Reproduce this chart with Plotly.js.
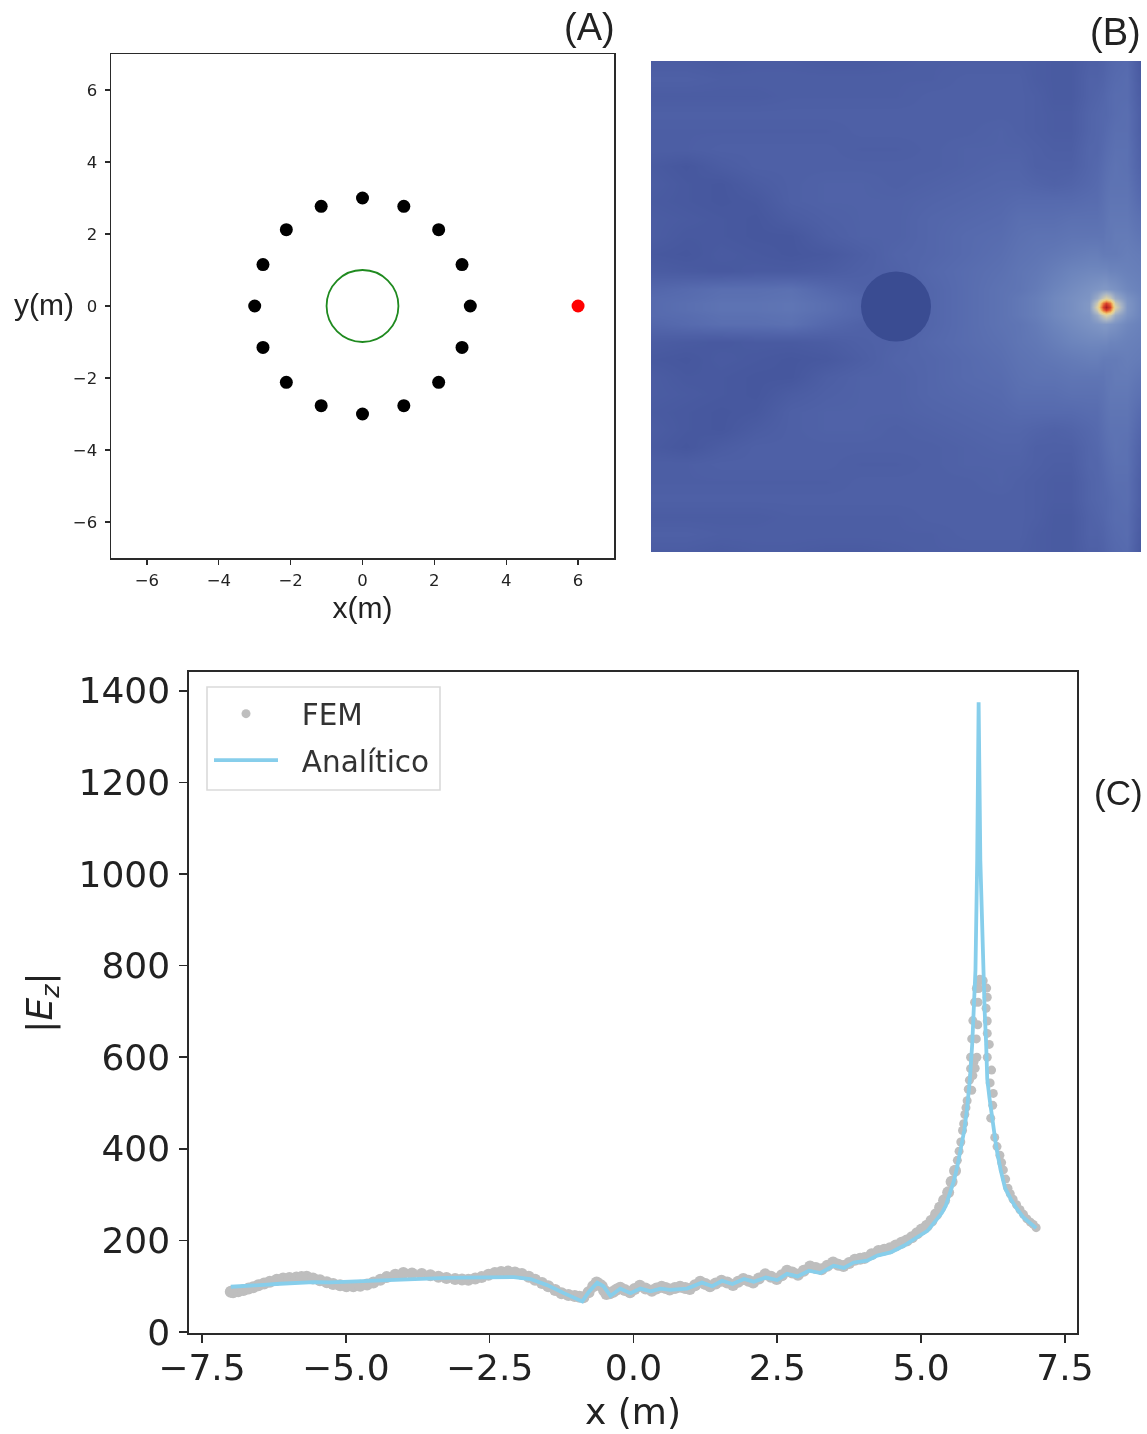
<!DOCTYPE html>
<html>
<head>
<meta charset="utf-8">
<script src="https://cdn.plot.ly/plotly-3.0.0.min.js"></script>
<style>html,body{margin:0;padding:0;background:#fff}#chart{width:1147px;height:1434px;filter:blur(0.5px)}</style>
</head>
<body>
<div id="chart"></div>
<script>
// Panel A: geometry
const ringX = [3,2.77,2.12,1.15,0,-1.15,-2.12,-2.77,-3,-2.77,-2.12,-1.15,0,1.15,2.12,2.77];
const ringY = [0,1.15,2.12,2.77,3,2.77,2.12,1.15,0,-1.15,-2.12,-2.77,-3,-2.77,-2.12,-1.15];
const sourceX = [6];
const sourceY = [0];

// Panel B: field (relative scale 0-100), upper half, mirrored about y=0
const fieldX = [-7,-6,-5,-4,-3,-2,-1,0,1,2,3,3.5,4,4.5,5,5.5,5.75,5.9,6,6.1,6.25,6.6,7];
const fieldAbsY = [0,0.1,0.25,0.5,1,1.5,2,2.5,3,3.5,4,4.5,5,5.5,6,6.5,7];
const fieldRows = [
 [20,22,24,24,25,22,18,15,18,21,24,26,28,31,33,36,56,88,100,88,56,35,30],
 [20,22,24,24,25,22,18,15,18,21,24,26,28,31,33,36,52,80,88,80,52,35,30],
 [20,21,23,23,24,21,18,15,18,21,24,26,28,31,33,35,42,52,56,52,42,34,30],
 [18,20,22,22,23,19,16,15,18,21,24,25,27,30,32,34,35,36,36,35,34,31,29],
 [13,12,11,12,12,13,15,16,19,21,23,25,26,28,30,31,31,31,31,30,30,29,28],
 [11,10,12,11,10,11,14,17,18,20,22,24,25,26,27,28,28,27,27,27,27,28,27],
 [13,11,11,10,10,14,16,16,18,20,21,23,24,24,25,25,25,25,26,26,27,27,25],
 [13,12,11,10,13,15,16,16,18,19,20,22,22,22,23,23,23,24,25,26,26,26,23],
 [12,11,10,11,15,16,16,16,17,18,19,20,20,20,20,21,21,23,24,25,25,25,20],
 [13,11,10,13,15,16,16,15,16,17,18,18,17,16,17,19,20,22,23,24,24,24,18],
 [12,10,13,15,15,15,15,15,15,16,17,17,15,15,15,18,19,21,22,23,24,23,16],
 [14,14,15,15,15,15,14,14,15,16,16,16,15,14,14,18,18,20,21,22,23,23,15],
 [14,14,14,14,14,14,15,15,15,15,16,15,14,13,13,17,18,19,20,21,22,22,14],
 [15,15,15,15,15,15,15,15,15,15,15,15,14,13,13,17,18,19,19,20,21,22,14],
 [13,13,13,13,14,14,14,14,15,15,15,15,14,12,12,16,17,18,19,20,21,21,13],
 [15,15,14,14,14,14,14,14,14,15,15,15,13,12,12,16,16,17,18,19,20,21,12],
 [13,13,12,13,13,12,12,13,14,14,14,14,13,12,12,15,15,16,17,18,19,20,11]
];
const fieldScale = [
 [0,'#3A4C92'],[0.10,'#46579E'],[0.15,'#4E60A6'],[0.20,'#566AAE'],[0.25,'#5F75B4'],
 [0.30,'#6C84BC'],[0.35,'#7E95C4'],[0.45,'#A8B4C4'],[0.55,'#D8CFA8'],[0.65,'#EFCF80'],
 [0.75,'#EE9A50'],[0.88,'#D8402A'],[1,'#A81E22']
];

// Panel C: analytic curve
const anaX = [-7.0,-6.72,-6.43,-6.14,-5.85,-5.56,-5.27,-4.98,-4.69,-4.40,-4.11,-3.82,-3.53,-3.24,-2.95,-2.66,-2.37,-2.08,-1.79,-1.50,-1.21,-0.89,-0.78,-0.63,-0.52,-0.40,-0.23,-0.05,0.12,0.30,0.47,0.64,0.93,1.19,1.37,1.54,1.72,1.92,2.09,2.30,2.50,2.67,2.85,3.05,3.25,3.48,3.66,3.83,4.06,4.24,4.47,4.70,4.93,5.11,5.28,5.36,5.43,5.50,5.57,5.63,5.69,5.75,5.80,5.85,5.89,5.92,5.945,5.975,6.0,6.03,6.055,6.08,6.105,6.13,6.15,6.19,6.23,6.31,6.38,6.46,6.56,6.66,6.78,6.9,7.0];
const anaY = [99,100,103,105.5,108,109,108.5,110,111,113.5,116,117,117,118.5,119,120,121,120,115.7,102.6,85,67,87,108,100,79,95,85,95,89,95,92,95,108,100,112,105,116,110,119,113.5,127,121.5,134,129,145,140,152,156,167,174,188.5,207,221,247,260,276,300,330,362,401,440,489,555,632,700,790,1029,1375,1029,900,790,700,632,552,510,473,401,355,314,290,270,250,237,227];

// Panel C: FEM samples, low band
const femBandX = [-7,-6.96,-6.87,-6.78,-6.69,-6.61,-6.52,-6.42,-6.32,-6.2,-6.09,-5.98,-5.86,-5.77,-5.68,-5.57,-5.45,-5.33,-5.22,-5.10,-4.99,-4.87,-4.75,-4.63,-4.52,-4.40,-4.29,-4.14,-4.0,-3.85,-3.68,-3.53,-3.39,-3.25,-3.10,-2.98,-2.87,-2.75,-2.64,-2.52,-2.41,-2.30,-2.18,-2.06,-1.94,-1.82,-1.71,-1.59,-1.48,-1.36,-1.25,-1.13,-1.02,-0.94,-0.87,-0.78,-0.70,-0.64,-0.59,-0.55,-0.51,-0.47,-0.41,-0.35,-0.29,-0.23,-0.15,-0.06,0.02,0.11,0.21,0.32,0.40,0.49,0.56,0.63,0.72,0.81,0.90,0.98,1.07,1.16,1.25,1.33,1.43,1.53,1.63,1.73,1.82,1.91,2.0,2.08,2.18,2.29,2.39,2.49,2.58,2.67,2.76,2.86,2.96,3.07,3.17,3.27,3.37,3.47,3.56,3.65,3.75,3.85,3.94,4.02,4.14,4.26,4.36,4.46,4.56,4.66,4.75,4.84,4.93,5.01,5.10,5.18,5.26,5.33,5.40,5.47,5.53,5.59];
const femBandY = [88,87,89,92,95,98,102,106,110,114,117,118,119,120,121,117,113,109,105,102,100,100,101,104,108,114,120,125,129,128,127,124,121,118,116,115,114,117,120,125,129,131,132,130,127,121,114,107,100,92,85,81,79,77,76,87,100,108,104,100,91,83,85,88,93,97,92,87,94,101,95,90,95,99,96,93,96,99,96,94,102,110,105,100,106,112,108,103,110,116,112,108,117,126,121,116,124,134,130,125,134,143,140,137,145,152,147,144,151,158,160,162,170,177,180,183,189,195,200,207,216,224,232,243,257,272,288,305,328,352];

// Panel C: FEM samples, around the peak and on the falling side
const femPeakX = [5.63,5.66,5.69,5.72,5.74,5.76,5.78,5.80,5.82,5.84,5.86,5.88,5.86,5.88,5.90,5.93,5.96,5.90,5.92,5.94,5.97,5.96,5.985,5.99,6.0,6.0,6.02,6.08,6.14,6.15,6.13,6.15,6.15,6.185,6.15,6.225,6.20,6.255,6.245,6.21,6.28,6.32,6.37,6.40,6.43,6.47,6.51,6.55,6.60,6.66,6.72,6.78,6.84,6.90,6.95,7.0];
const femPeakY = [375,395,415,440,455,475,490,505,530,550,575,528,600,640,680,720,750,560,590,576,600,640,671,720,750,767,770,767,751,731,707,679,652,628,600,572,544,521,495,467,425,405,386,370,354,334,314,302,290,278,267,257,247,240,235,228];

const tickA = [-6,-4,-2,0,2,4,6];
const tickCx = [-7.5,-5,-2.5,0,2.5,5,7.5];
const tickCy = [0,200,400,600,800,1000,1200,1400];

const W = 1147, H = 1434;
const dx = (a,b)=>[a/W,b/W];
const dy = (t,b)=>[1-b/H,1-t/H];
const fieldY = fieldAbsY.slice(1).reverse().map(v=>-v).concat(fieldAbsY);
const fieldZ = fieldRows.slice(1).reverse().concat(fieldRows);

const dark = '#2a2a2a';
const mplA = {showgrid:false,zeroline:false,mirror:true,showline:true,linecolor:dark,linewidth:1.5,ticks:'outside',ticklen:5,tickwidth:1.3,tickcolor:dark,
  tickfont:{family:'DejaVu Sans',size:16.5,color:'#222'},range:[-7,7],tickmode:'array',tickvals:tickA,ticktext:tickA.map(v=>v<0?'\u2212'+(-v):''+v)};

const traces = [
 {type:'scatter',mode:'markers',x:ringX,y:ringY,marker:{color:'#000',size:13},xaxis:'x',yaxis:'y',showlegend:false,hoverinfo:'skip'},
 {type:'scatter',mode:'markers',x:sourceX,y:sourceY,marker:{color:'#FF0000',size:13},xaxis:'x',yaxis:'y',showlegend:false,hoverinfo:'skip'},
 {type:'heatmap',x:fieldX,y:fieldY,z:fieldZ,zmin:0,zmax:100,colorscale:fieldScale,zsmooth:'best',showscale:false,xaxis:'x2',yaxis:'y2',hoverinfo:'skip'},
 {type:'scatter',mode:'markers',name:'FEM band',x:femBandX,y:femBandY,marker:{color:'#BEBEBE',size:12},xaxis:'x3',yaxis:'y3',showlegend:false},
 {type:'scatter',mode:'markers',name:'\u00a0\u00a0FEM',legendgroup:'a',x:femPeakX,y:femPeakY,marker:{color:'#BEBEBE',size:9},xaxis:'x3',yaxis:'y3'},
 {type:'scatter',mode:'lines',name:'\u00a0\u00a0Analítico',legendgroup:'b',x:anaX,y:anaY,line:{color:'#87CEEB',width:3.8},xaxis:'x3',yaxis:'y3'}
];

const layout = {
 width:W,height:H,margin:{l:0,r:0,t:0,b:0},paper_bgcolor:'#fff',plot_bgcolor:'#fff',
 font:{family:'DejaVu Sans',color:'#222'},
 xaxis:Object.assign({},mplA,{domain:dx(111,614),anchor:'y',ticklabelstandoff:2,title:{text:'x(m)',font:{family:'Liberation Sans',size:30,color:'#222'},standoff:7}}),
 yaxis:Object.assign({},mplA,{domain:dy(54,558),anchor:'x',ticklabelstandoff:4}),
 xaxis2:{domain:dx(651,1141),anchor:'y2',range:[-7,7],visible:false},
 yaxis2:{domain:dy(61,552),anchor:'x2',range:[-7,7],visible:false},
 xaxis3:{domain:dx(189,1077),anchor:'y3',range:[-7.726,7.71],tickmode:'array',tickvals:tickCx,ticktext:tickCx.map(v=>(v<0?'\u2212':'')+Math.abs(v).toFixed(1)),
   showgrid:false,zeroline:false,mirror:true,showline:true,linecolor:dark,linewidth:1.6,ticks:'outside',ticklen:8,tickwidth:1.6,tickcolor:dark,ticklabelstandoff:-6,
   tickfont:{family:'DejaVu Sans',size:36,color:'#222'},title:{text:'x (m)',font:{family:'DejaVu Sans',size:36,color:'#222'},standoff:12}},
 yaxis3:{domain:dy(672,1333),anchor:'x3',range:[-2,1441],tickmode:'array',tickvals:tickCy,ticklabelstandoff:2,
   showgrid:false,zeroline:false,mirror:true,showline:true,linecolor:dark,linewidth:1.6,ticks:'outside',ticklen:8,tickwidth:1.6,tickcolor:dark,
   tickfont:{family:'DejaVu Sans',size:36,color:'#222'},title:{text:'|<i>E<sub>z</sub></i>|',font:{family:'DejaVu Sans',size:36,color:'#222'},standoff:15}},
 shapes:[
  {type:'circle',xref:'x',yref:'y',x0:-1,x1:1,y0:-1,y1:1,line:{color:'#1f8a1f',width:1.8},fillcolor:'rgba(0,0,0,0)'},
  {type:'circle',xref:'x2',yref:'y2',x0:-1,x1:1,y0:-1,y1:1,line:{width:0},fillcolor:'#3A4C92'},
  {type:'rect',xref:'paper',yref:'paper',x0:207/W,x1:440/W,y0:1-790/H,y1:1-687/H,line:{color:'#DADADA',width:1.6},fillcolor:'#fff'}
 ],
 annotations:[
  {text:'(A)',xref:'paper',yref:'paper',x:562/W,y:1-27/H,xanchor:'left',yanchor:'middle',showarrow:false,font:{family:'Liberation Sans',size:38,color:'#222'}},
  {text:'(B)',xref:'paper',yref:'paper',x:1088/W,y:1-32/H,xanchor:'left',yanchor:'middle',showarrow:false,font:{family:'Liberation Sans',size:38,color:'#222'}},
  {text:'(C)',xref:'paper',yref:'paper',x:1092/W,y:1-792/H,xanchor:'left',yanchor:'middle',showarrow:false,font:{family:'Liberation Sans',size:35,color:'#222'}},
  {text:'y(m)',xref:'paper',yref:'paper',x:12/W,y:1-304/H,xanchor:'left',yanchor:'middle',showarrow:false,font:{family:'Liberation Sans',size:30,color:'#222'}}
 ],
 legend:{x:209/W,y:1-688/H,xanchor:'left',yanchor:'top',bgcolor:'rgba(0,0,0,0)',borderwidth:0,itemwidth:64,tracegroupgap:5,
   font:{family:'DejaVu Sans',size:29.5,color:'#333'}}
};
Plotly.newPlot('chart',traces,layout,{displayModeBar:false,staticPlot:true});
</script>
</body>
</html>
